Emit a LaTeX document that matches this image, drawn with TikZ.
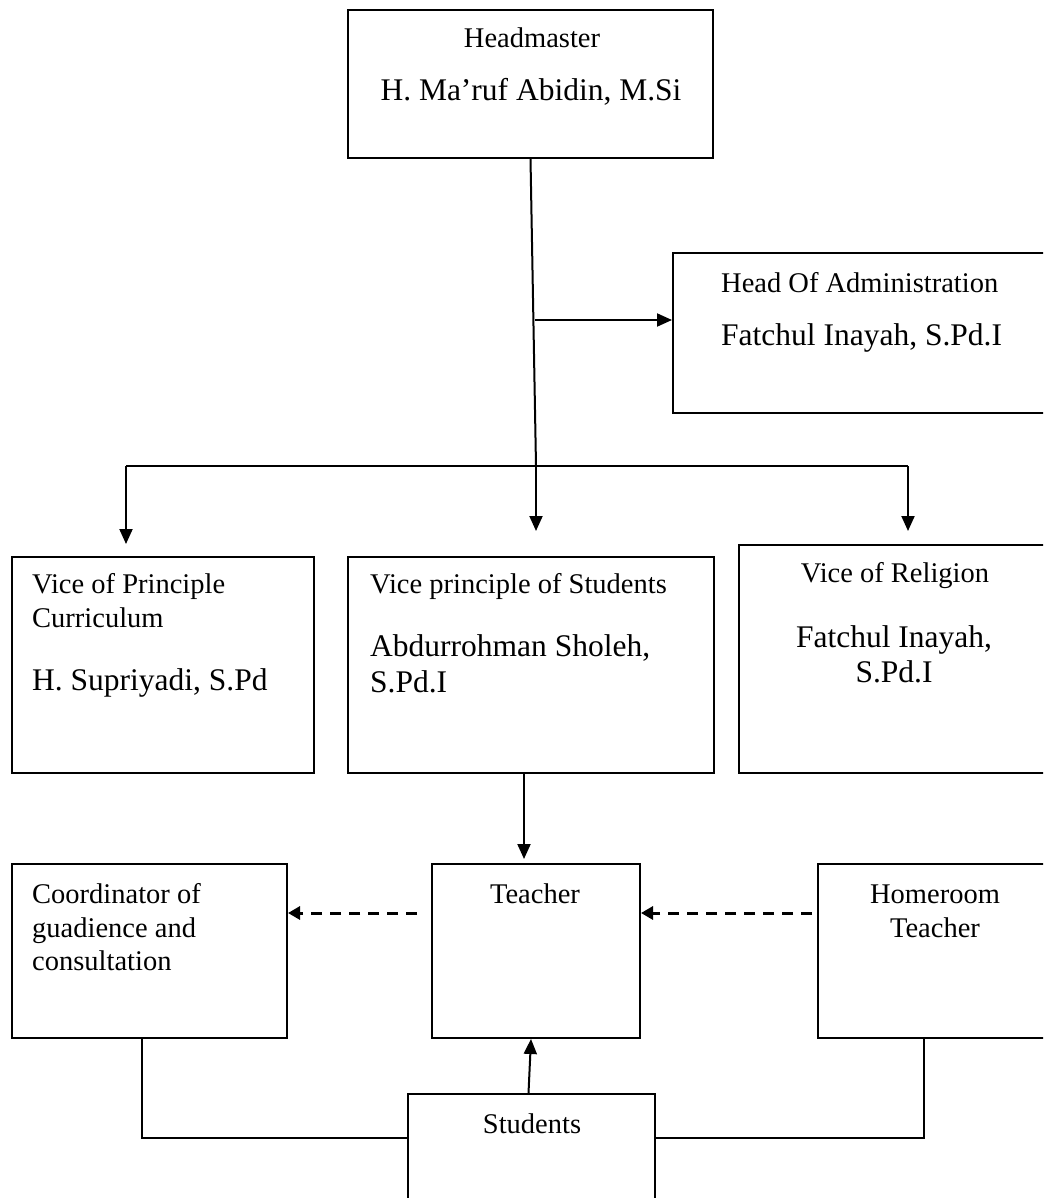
\documentclass[tikz,border=0pt]{standalone}
\usepackage{fontspec}
\setmainfont{Liberation Serif}
\usetikzlibrary{arrows.meta}

\begin{document}
\begin{tikzpicture}[x=1pt,y=-1pt]
\tikzstyle{box}=[draw, line width=2pt, inner sep=0pt]
\tikzstyle{small}=[inner sep=0pt, font=\fontsize{28.5}{33.5}\selectfont]
\tikzstyle{big}=[inner sep=0pt, font=\fontsize{31.5}{36}\selectfont]
\tikzstyle{link}=[line width=2pt]
\tikzstyle{arrow}=[line width=2pt, -{Triangle[length=15pt,width=13pt]}]
\tikzstyle{dasharrow}=[line width=3pt, dash pattern=on 11pt off 8pt, -{Triangle[length=12pt,width=13pt]}]

\useasboundingbox (0,0) rectangle (1043,1198);
\clip (0,0) rectangle (1043,1198);

\draw (530.5,84) node[box, minimum width=365pt, minimum height=148pt] (head) {};
\draw (886.5,333) node[box, minimum width=427pt, minimum height=160pt] (admin) {};
\draw (163,665) node[box, minimum width=302pt, minimum height=216pt] (vcur) {};
\draw (531,665) node[box, minimum width=366pt, minimum height=216pt] (vstud) {};
\draw (919.5,659) node[box, minimum width=361pt, minimum height=228pt] (vrel) {};
\draw (149.5,951) node[box, minimum width=275pt, minimum height=174pt] (coord) {};
\draw (536,951) node[box, minimum width=208pt, minimum height=174pt] (teacher) {};
\draw (959,951) node[box, minimum width=282pt, minimum height=174pt] (home) {};
\draw (531.5,1174) node[box, minimum width=247pt, minimum height=160pt] (stud) {};

\draw (532,48) node[small, anchor=base] (headTitle) {Headmaster};
\draw (531,101) node[big, anchor=base] (headName) {H. Ma’ruf Abidin, M.Si};
\draw (721,292) node[small, anchor=base west] (adminTitle) {Head Of Administration};
\draw (721,345) node[big, anchor=base west] (adminName) {Fatchul Inayah, S.Pd.I};
\draw (32,593) node[small, anchor=base west] (curTitle) {Vice of Principle};
\draw (32,627) node[small, anchor=base west] (curTitleB) {Curriculum};
\draw (32,690) node[big, anchor=base west] (curName) {H. Supriyadi, S.Pd};
\draw (370,593) node[small, anchor=base west] (studTitle) {Vice principle of Students};
\draw (370,656) node[big, anchor=base west] (studName) {Abdurrohman Sholeh,};
\draw (370,692) node[big, anchor=base west] (studNameB) {S.Pd.I};
\draw (895,582) node[small, anchor=base] (relTitle) {Vice of Religion};
\draw (894,647) node[big, anchor=base] (relName) {Fatchul Inayah,};
\draw (894,682) node[big, anchor=base] (relNameB) {S.Pd.I};
\draw (32,903) node[small, anchor=base west] (coordA) {Coordinator of};
\draw (32,937) node[small, anchor=base west] (coordB) {guadience and};
\draw (32,970) node[small, anchor=base west] (coordC) {consultation};
\draw (535,903) node[small, anchor=base] (teacherT) {Teacher};
\draw (935,903) node[small, anchor=base] (homeA) {Homeroom};
\draw (935,937) node[small, anchor=base] (homeB) {Teacher};
\draw (532,1133) node[small, anchor=base] (studentsT) {Students};

\coordinate (hub) at (536,466);
\coordinate (tap) at (535,320);
\coordinate (barL) at (126,466);
\coordinate (barR) at (908,466);
\coordinate (down) at ([xshift=-7pt]vstud.south);

\draw[link] (head.south) -- (hub);
\draw[arrow] (tap) -- (tap -| admin.west);
\draw[link] (barL) -- (barR);
\draw[arrow, shorten >=12pt] (barL) -- (barL |- vcur.north);
\draw[arrow, shorten >=25pt] (hub) -- (hub |- vstud.north);
\draw[arrow, shorten >=13pt] (barR) -- (barR |- vrel.north);
\draw[arrow, shorten >=4pt] (down) -- (down |- teacher.north);
\draw[dasharrow, shorten <=14pt] ([yshift=38pt]teacher.west) -- ([yshift=38pt]coord.east);
\draw[dasharrow, shorten <=5pt] ([yshift=38pt]home.west) -- ([yshift=38pt]teacher.east);
\draw[arrow] ([xshift=-3pt]stud.north) -- ([xshift=-5pt]teacher.south);
\draw[link] ([xshift=-7.5pt]coord.south) |- ([yshift=36pt]stud.west);
\draw[link] ([xshift=-35pt]home.south) |- ([yshift=36pt]stud.east);
\end{tikzpicture}
\end{document}
